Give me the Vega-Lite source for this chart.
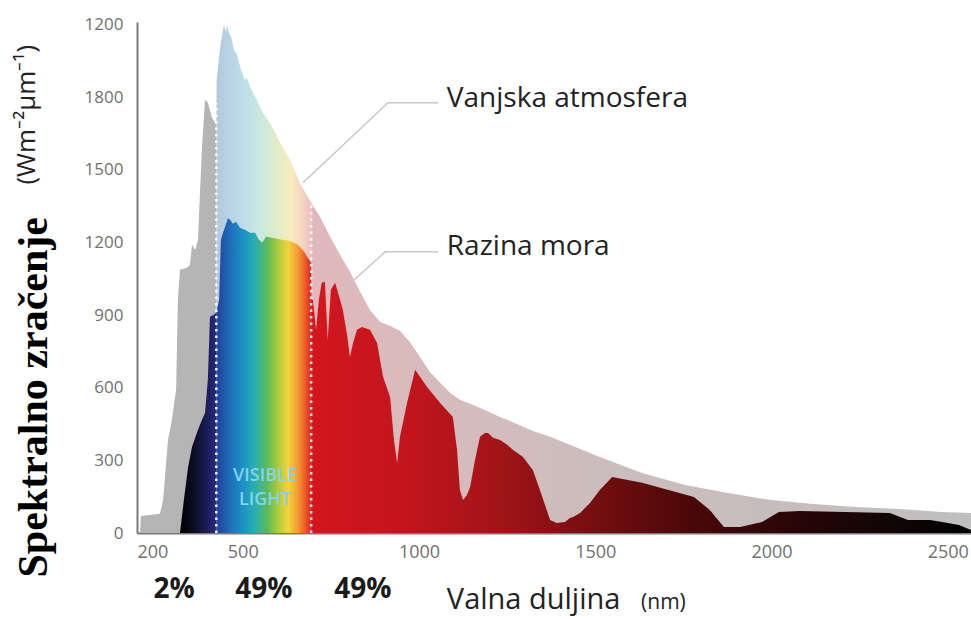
{
  "$schema": "https://vega.github.io/schema/vega-lite/v6.json",
  "width": 834,
  "height": 511,
  "autosize": "none",
  "padding": {"left": 137, "top": 22, "right": 0, "bottom": 86},
  "background": "white",
  "config": {"view": {"stroke": null}, "font": "Open Sans"},
  "datasets": {
    "outer_uv": [
      {"nm": 208.5, "w": 0}, {"nm": 211, "w": 70}, {"nm": 265, "w": 79}, {"nm": 274, "w": 136},
      {"nm": 288, "w": 384}, {"nm": 299, "w": 467}, {"nm": 311, "w": 591}, {"nm": 316, "w": 963},
      {"nm": 322, "w": 1087}, {"nm": 342, "w": 1095}, {"nm": 350, "w": 1107}, {"nm": 356, "w": 1190},
      {"nm": 365, "w": 1169}, {"nm": 373, "w": 1211}, {"nm": 384, "w": 1583}, {"nm": 393, "w": 1789},
      {"nm": 401, "w": 1777}, {"nm": 413, "w": 1715}, {"nm": 425, "w": 1686}
    ],
    "outer_vis": [
      {"nm": 425, "w": 1686}, {"nm": 426, "w": 1872}, {"nm": 435, "w": 1996}, {"nm": 444, "w": 2078},
      {"nm": 447, "w": 2100}, {"nm": 451, "w": 2070}, {"nm": 456, "w": 2092}, {"nm": 462, "w": 2060},
      {"nm": 467, "w": 2050}, {"nm": 475, "w": 1996}, {"nm": 484, "w": 1975}, {"nm": 495, "w": 1913},
      {"nm": 506, "w": 1872}, {"nm": 512, "w": 1880}, {"nm": 521, "w": 1843}, {"nm": 532, "w": 1810},
      {"nm": 540, "w": 1789}, {"nm": 557, "w": 1736}, {"nm": 577, "w": 1694}, {"nm": 606, "w": 1612},
      {"nm": 634, "w": 1541}, {"nm": 662, "w": 1446}, {"nm": 694, "w": 1364}
    ],
    "outer_ir": [
      {"nm": 694, "w": 1364}, {"nm": 719, "w": 1306}, {"nm": 748, "w": 1223}, {"nm": 776, "w": 1149},
      {"nm": 804, "w": 1079}, {"nm": 833, "w": 996}, {"nm": 861, "w": 921}, {"nm": 889, "w": 872},
      {"nm": 918, "w": 855}, {"nm": 946, "w": 835}, {"nm": 974, "w": 789}, {"nm": 1003, "w": 727},
      {"nm": 1031, "w": 665}, {"nm": 1060, "w": 620}, {"nm": 1088, "w": 579}, {"nm": 1116, "w": 550},
      {"nm": 1159, "w": 525}, {"nm": 1193, "w": 504}, {"nm": 1230, "w": 479}, {"nm": 1278, "w": 450},
      {"nm": 1323, "w": 421}, {"nm": 1372, "w": 397}, {"nm": 1428, "w": 364}, {"nm": 1513, "w": 314},
      {"nm": 1633, "w": 248}, {"nm": 1755, "w": 198}, {"nm": 1877, "w": 165}, {"nm": 1999, "w": 136},
      {"nm": 2118, "w": 120}, {"nm": 2240, "w": 107}, {"nm": 2362, "w": 99}, {"nm": 2484, "w": 87},
      {"nm": 2566, "w": 83}
    ],
    "sea_uv": [
      {"nm": 322, "w": 0}, {"nm": 333, "w": 136}, {"nm": 345, "w": 273}, {"nm": 356, "w": 355},
      {"nm": 373, "w": 426}, {"nm": 384, "w": 467}, {"nm": 393, "w": 496}, {"nm": 401, "w": 632},
      {"nm": 407, "w": 893}, {"nm": 418, "w": 901}, {"nm": 425, "w": 909}
    ],
    "sea_vis": [
      {"nm": 425, "w": 909}, {"nm": 433, "w": 963}, {"nm": 438, "w": 1211}, {"nm": 444, "w": 1240},
      {"nm": 452, "w": 1273}, {"nm": 458, "w": 1300}, {"nm": 464, "w": 1293}, {"nm": 472, "w": 1277},
      {"nm": 481, "w": 1285}, {"nm": 492, "w": 1260}, {"nm": 506, "w": 1252}, {"nm": 521, "w": 1240},
      {"nm": 535, "w": 1240}, {"nm": 546, "w": 1211}, {"nm": 555, "w": 1198}, {"nm": 566, "w": 1223},
      {"nm": 583, "w": 1219}, {"nm": 611, "w": 1211}, {"nm": 634, "w": 1207}, {"nm": 657, "w": 1190},
      {"nm": 674, "w": 1161}, {"nm": 685, "w": 1136}, {"nm": 694, "w": 1116}
    ],
    "sea_ir": [
      {"nm": 694, "w": 1116}, {"nm": 695, "w": 963}, {"nm": 699, "w": 963}, {"nm": 708, "w": 839},
      {"nm": 716, "w": 963}, {"nm": 724, "w": 1033}, {"nm": 733, "w": 1037}, {"nm": 741, "w": 797},
      {"nm": 750, "w": 1004}, {"nm": 762, "w": 1033}, {"nm": 776, "w": 963}, {"nm": 784, "w": 921},
      {"nm": 796, "w": 818}, {"nm": 804, "w": 727}, {"nm": 813, "w": 785}, {"nm": 824, "w": 839},
      {"nm": 838, "w": 851}, {"nm": 861, "w": 839}, {"nm": 881, "w": 785}, {"nm": 898, "w": 645},
      {"nm": 918, "w": 562}, {"nm": 929, "w": 384}, {"nm": 938, "w": 289}, {"nm": 946, "w": 397},
      {"nm": 966, "w": 537}, {"nm": 989, "w": 674}, {"nm": 1023, "w": 603}, {"nm": 1060, "w": 537},
      {"nm": 1096, "w": 479}, {"nm": 1108, "w": 343}, {"nm": 1116, "w": 178}, {"nm": 1125, "w": 136},
      {"nm": 1136, "w": 157}, {"nm": 1145, "w": 190}, {"nm": 1159, "w": 302}, {"nm": 1173, "w": 397},
      {"nm": 1187, "w": 413}, {"nm": 1196, "w": 413}, {"nm": 1210, "w": 393}, {"nm": 1230, "w": 384},
      {"nm": 1250, "w": 364}, {"nm": 1267, "w": 343}, {"nm": 1295, "w": 314}, {"nm": 1323, "w": 260},
      {"nm": 1343, "w": 178}, {"nm": 1372, "w": 54}, {"nm": 1391, "w": 41}, {"nm": 1414, "w": 45},
      {"nm": 1428, "w": 62}, {"nm": 1437, "w": 66}, {"nm": 1457, "w": 83}, {"nm": 1485, "w": 124},
      {"nm": 1513, "w": 178}, {"nm": 1548, "w": 231}, {"nm": 1633, "w": 207}, {"nm": 1780, "w": 149},
      {"nm": 1825, "w": 95}, {"nm": 1865, "w": 25}, {"nm": 1911, "w": 25}, {"nm": 1973, "w": 45},
      {"nm": 2021, "w": 87}, {"nm": 2081, "w": 91}, {"nm": 2336, "w": 83}, {"nm": 2387, "w": 54},
      {"nm": 2450, "w": 54}, {"nm": 2484, "w": 45}, {"nm": 2532, "w": 33}, {"nm": 2566, "w": 12}
    ],
    "bands": [
      {"nm": 425, "w": 0, "top": 1775},
      {"nm": 694, "w": 0, "top": 1364}
    ],
    "leaders": [
      {"g": "a", "o": 1, "nm": 671, "w": 1446}, {"g": "a", "o": 2, "nm": 912, "w": 1777}, {"g": "a", "o": 3, "nm": 1054, "w": 1777},
      {"g": "b", "o": 1, "nm": 776, "w": 992}, {"g": "b", "o": 2, "nm": 904, "w": 1161}, {"g": "b", "o": 3, "nm": 1054, "w": 1161}
    ]
  },
  "encoding": {
    "x": {
      "field": "nm", "type": "quantitative",
      "scale": {"domain": [200, 2566], "nice": false, "zero": false},
      "axis": {
        "values": [200, 500, 1000, 1500, 2000, 2500], "format": "d", "labelFlush": true,
        "ticks": false, "grid": false, "domainColor": "#7a7a7a", "domainWidth": 2,
        "labelColor": "#707070", "labelFont": "Open Sans", "labelFontSize": 18, "labelPadding": 10,
        "title": null
      }
    },
    "y": {
      "field": "w", "type": "quantitative",
      "scale": {"domain": [0, 2110], "nice": false},
      "axis": {
        "values": [0, 300, 600, 900, 1200, 1500, 1800, 2100], "format": "d",
        "labelExpr": "datum.value === 2100 ? '1200' : datum.label",
        "ticks": false, "grid": false, "domainColor": "#7a7a7a", "domainWidth": 2,
        "labelColor": "#707070", "labelFont": "Open Sans", "labelFontSize": 17, "labelPadding": 14,
        "title": "Spektralno zračenje", "titleFont": "Liberation Serif", "titleFontSize": 42,
        "titleFontWeight": "bold", "titleColor": "#000000", "titleAngle": 270,
        "titleAlign": "left", "titleBaseline": "alphabetic", "titleX": -91, "titleY": 555
      }
    }
  },
  "layer": [
    {"data": {"name": "outer_uv"}, "mark": {"type": "area", "opacity": 1, "fill": "#b5b5b5"}},
    {"data": {"name": "outer_vis"}, "mark": {"type": "area", "opacity": 1,
      "fill": {"gradient": "linear", "x1": 0, "y1": 0, "x2": 1, "y2": 0, "stops": [
        {"offset": 0, "color": "#b4c8de"}, {"offset": 0.25, "color": "#bcdbe9"},
        {"offset": 0.45, "color": "#c9e8e2"}, {"offset": 0.62, "color": "#dcedc8"},
        {"offset": 0.78, "color": "#f7edbf"}, {"offset": 0.9, "color": "#f6d6c2"},
        {"offset": 1, "color": "#ecc0bf"}]}}},
    {"data": {"name": "outer_ir"}, "mark": {"type": "area", "opacity": 1,
      "fill": {"gradient": "linear", "x1": 0, "y1": 0, "x2": 1, "y2": 0, "stops": [
        {"offset": 0, "color": "#e2b8ba"}, {"offset": 0.15, "color": "#d8bbbc"},
        {"offset": 0.45, "color": "#cbbdbd"}, {"offset": 1, "color": "#bfbfbf"}]}}},
    {"data": {"name": "sea_uv"}, "mark": {"type": "area", "opacity": 1,
      "fill": {"gradient": "linear", "x1": 0, "y1": 0, "x2": 1, "y2": 0, "stops": [
        {"offset": 0, "color": "#000000"}, {"offset": 0.35, "color": "#0c0c24"},
        {"offset": 0.75, "color": "#1c1d58"}, {"offset": 1, "color": "#262a7e"}]}}},
    {"data": {"name": "sea_vis"}, "mark": {"type": "area", "opacity": 1,
      "fill": {"gradient": "linear", "x1": 0, "y1": 0, "x2": 1, "y2": 0, "stops": [
        {"offset": 0, "color": "#253e98"}, {"offset": 0.12, "color": "#1f66b4"},
        {"offset": 0.26, "color": "#1a8cc6"}, {"offset": 0.4, "color": "#27aeb2"},
        {"offset": 0.54, "color": "#5dba5a"}, {"offset": 0.66, "color": "#b3cd3c"},
        {"offset": 0.76, "color": "#f5d23e"}, {"offset": 0.86, "color": "#f39b33"},
        {"offset": 0.94, "color": "#ec5a28"}, {"offset": 1, "color": "#dc2328"}]}}},
    {"data": {"name": "sea_ir"}, "mark": {"type": "area", "opacity": 1,
      "fill": {"gradient": "linear", "x1": 0, "y1": 0, "x2": 1, "y2": 0, "stops": [
        {"offset": 0, "color": "#d3161e"}, {"offset": 0.14, "color": "#c4151c"},
        {"offset": 0.29, "color": "#a01418"}, {"offset": 0.44, "color": "#720d0f"},
        {"offset": 0.58, "color": "#4a0808"}, {"offset": 0.74, "color": "#280505"},
        {"offset": 0.89, "color": "#0e0606"}, {"offset": 1, "color": "#000000"}]}}},
    {"data": {"name": "bands"}, "mark": {"type": "rule", "color": "#ffffff", "strokeWidth": 2.5, "strokeDash": [2.5, 4], "opacity": 0.9},
      "encoding": {"y2": {"field": "top"}}},
    {"data": {"name": "leaders"}, "mark": {"type": "line", "color": "#c8c8c8", "strokeWidth": 1.5},
      "encoding": {"detail": {"field": "g"}, "order": {"field": "o", "type": "quantitative"}}},
    {"data": {"values": [{"t": "Vanjska atmosfera", "nm": 1079, "w": 1760}, {"t": "Razina mora", "nm": 1079, "w": 1149}]},
      "mark": {"type": "text", "align": "left", "baseline": "alphabetic", "font": "Open Sans", "fontSize": 28, "color": "#222222"},
      "encoding": {"text": {"field": "t"}}},
    {"data": {"values": [{"t": "VISIBLE", "nm": 563, "w": 236}, {"t": "LIGHT", "nm": 563, "w": 138}]},
      "mark": {"type": "text", "align": "center", "baseline": "middle", "font": "Open Sans", "fontSize": 18, "fontWeight": 600, "color": "#86d3ea"},
      "encoding": {"text": {"field": "t"}}},
    {"data": {"values": [{"t": "2%", "nm": 305, "w": -269}, {"t": "49%", "nm": 560, "w": -269}, {"t": "49%", "nm": 841, "w": -269}]},
      "mark": {"type": "text", "align": "center", "baseline": "alphabetic", "font": "Open Sans", "fontSize": 28, "fontWeight": "bold", "color": "#1a1a1a"},
      "encoding": {"text": {"field": "t"}}},
    {"data": {"values": [{"t": "Valna duljina", "nm": 1079, "w": -314}]},
      "mark": {"type": "text", "align": "left", "baseline": "alphabetic", "font": "Open Sans", "fontSize": 29, "color": "#222222"},
      "encoding": {"text": {"field": "t"}}},
    {"data": {"values": [{"t": "(nm)", "nm": 1630, "w": -314}]},
      "mark": {"type": "text", "align": "left", "baseline": "alphabetic", "font": "Open Sans", "fontSize": 21, "color": "#222222"},
      "encoding": {"text": {"field": "t"}}},
    {"data": {"values": [{"t": "(Wm⁻²µm⁻¹)", "nm": -89, "w": 1727}]},
      "mark": {"type": "text", "align": "center", "baseline": "alphabetic", "angle": 270, "font": "Open Sans", "fontSize": 26, "color": "#222222"},
      "encoding": {"text": {"field": "t"}}}
  ]
}
